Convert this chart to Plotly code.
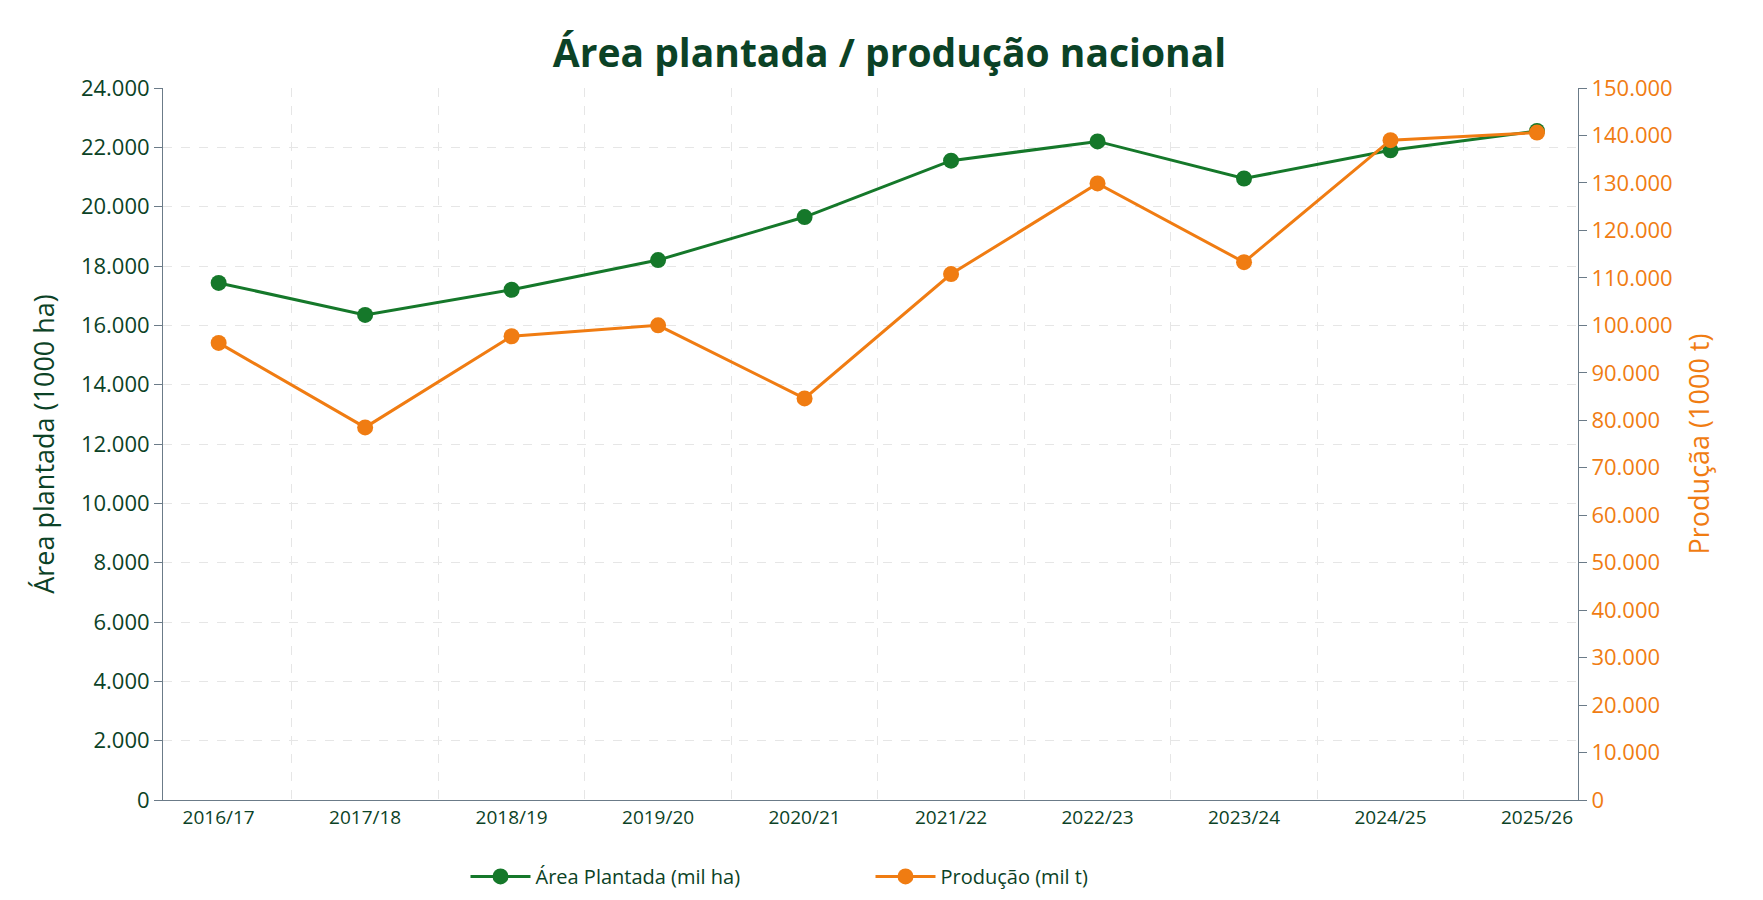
import plotly.graph_objects as go

safras = ['2016/17', '2017/18', '2018/19', '2019/20', '2020/21',
          '2021/22', '2022/23', '2023/24', '2024/25', '2025/26']
area = [17430, 16350, 17200, 18200, 19650, 21550, 22200, 20950, 21900, 22550]
producao = [96300, 78500, 97700, 100000, 84600, 110800, 129900, 113300, 139000, 140600]

verde = '#15782a'
laranja = '#f07c12'
escuro = '#0b4226'

fig = go.Figure()
fig.add_trace(go.Scatter(x=safras, y=area, name='Área Plantada (mil ha)', mode='lines+markers',
                         line=dict(color=verde, width=3), marker=dict(size=16, color=verde)))
fig.add_trace(go.Scatter(x=safras, y=producao, name='Produção (mil t)', mode='lines+markers',
                         line=dict(color=laranja, width=3), marker=dict(size=16, color=laranja),
                         yaxis='y2'))

fig.update_layout(
    width=1763, height=900,
    separators=',.',
    font=dict(family='Open Sans', size=18, color=escuro),
    title=dict(text='<b>Área plantada / produção nacional</b>', x=0.5, y=0.965,
               font=dict(size=39, color=escuro)),
    plot_bgcolor='white', paper_bgcolor='white',
    margin=dict(l=155, r=193, t=80, b=76),
    xaxis=dict(type='category', tickson='boundaries', showgrid=True, gridcolor='#e6e6e6',
               griddash='dash', ticks='', showline=True, linecolor='#6b7b88',
               tickfont=dict(size=19, color=escuro), range=[-0.38, 9.28]),
    yaxis=dict(range=[0, 24000], dtick=2000, tickformat=',d', showgrid=True,
               gridcolor='#e6e6e6', griddash='dash', zeroline=False, showline=True,
               linecolor='#6b7b88', ticks='outside', ticklen=8, tickcolor='#6b7b88',
               title=dict(text='Área plantada (1000 ha)', font=dict(size=27, color=escuro),
                          standoff=18),
               tickfont=dict(size=22, color=escuro)),
    yaxis2=dict(range=[0, 150000], dtick=10000, tickformat=',d', overlaying='y', side='right',
                showgrid=False, zeroline=False, showline=True, linecolor='#6b7b88',
                ticks='outside', ticklen=8, tickcolor='#6b7b88',
                title=dict(text='Produçãa (1000 t)', font=dict(size=27, color=laranja),
                           standoff=18),
                tickfont=dict(size=22, color=laranja)),
    legend=dict(orientation='h', x=0.5, xanchor='center', y=-0.08, yanchor='top',
                entrywidth=330, itemwidth=60, font=dict(size=20, color=escuro)),
)

fig.write_html('out.html')
